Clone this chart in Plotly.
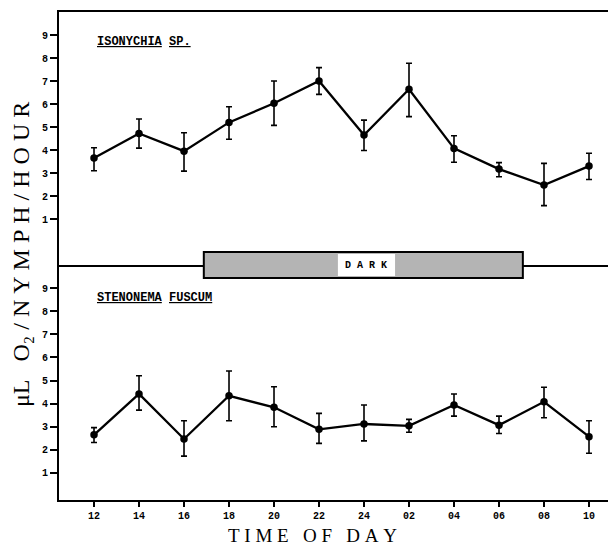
import plotly.graph_objects as go

# ---- data ----
time_labels = ["12", "14", "16", "18", "20", "22", "24", "02", "04", "06", "08", "10"]

iso_mean = [3.65, 4.72, 3.95, 5.20, 6.03, 7.00, 4.65, 6.64, 4.07, 3.17, 2.48, 3.30]
iso_hi   = [4.10, 5.35, 4.75, 5.88, 7.00, 7.58, 5.30, 7.77, 4.62, 3.45, 3.42, 3.86]
iso_lo   = [3.10, 4.08, 3.08, 4.47, 5.07, 6.42, 3.98, 5.45, 3.47, 2.84, 1.58, 2.72]

sten_mean = [2.65, 4.42, 2.47, 4.34, 3.84, 2.89, 3.12, 3.04, 3.94, 3.07, 4.08, 2.57]
sten_hi   = [2.96, 5.21, 3.26, 5.41, 4.73, 3.58, 3.94, 3.32, 4.42, 3.46, 4.71, 3.26]
sten_lo   = [2.32, 3.72, 1.73, 3.26, 3.00, 2.28, 2.39, 2.76, 3.46, 2.71, 3.39, 1.85]

y_ticks = [1, 2, 3, 4, 5, 6, 7, 8, 9]

dark_start = 2.44   # category index where the DARK bar begins (~17 h)
dark_end = 9.53     # category index where it ends (~07 h)

# ---- layout helpers (the page body adds an 8 px offset) ----
OFF = 8
W, H = 616 - OFF, 546 - OFF
L, T, B = 59 - OFF, 12 - OFF, 500 - OFF


def py(y_page):
    return (B - (y_page - OFF)) / (B - T)


def px(x_page):
    return ((x_page - OFF) - L) / (W - L)


split_p = py(265)

mono = "Liberation Mono"
serif = "Liberation Serif"

fig = go.Figure()


def add_series(mean, hi, lo, xa, ya):
    plus = [h - m for h, m in zip(hi, mean)]
    minus = [m - l for m, l in zip(mean, lo)]
    fig.add_trace(go.Scatter(
        x=time_labels, y=mean, xaxis=xa, yaxis=ya,
        mode="lines+markers",
        line=dict(color="black", width=2.3),
        marker=dict(color="black", size=7.5),
        error_y=dict(type="data", symmetric=False, array=plus, arrayminus=minus,
                     color="black", thickness=1.6, width=3),
        showlegend=False, hoverinfo="skip",
    ))


add_series(iso_mean, iso_hi, iso_lo, "x2", "y2")
add_series(sten_mean, sten_hi, sten_lo, "x", "y")

tickfont = dict(family=mono, size=10, color="black", weight="bold")

common_x = dict(type="category", categoryorder="array", categoryarray=time_labels,
                range=[-0.778, 11.6], showgrid=False, zeroline=False,
                linecolor="black", linewidth=2, showline=True)

fig.update_layout(
    width=W, height=H,
    margin=dict(l=L, r=0, t=T, b=H - B),
    paper_bgcolor="white", plot_bgcolor="white",
    xaxis=dict(**common_x, anchor="y", ticks="outside", ticklen=5, tickwidth=1.5,
               tickcolor="black", tickfont=tickfont),
    xaxis2=dict(**common_x, anchor="y2", matches="x", showticklabels=False,
                ticks="", mirror=True),
    yaxis=dict(domain=[0, split_p], range=[-0.17, 10], tickvals=y_ticks,
               showgrid=False, zeroline=False, showline=True, linecolor="black",
               linewidth=2, ticks="outside", ticklen=7, tickwidth=1.5,
               tickcolor="black", tickfont=tickfont, anchor="x"),
    yaxis2=dict(domain=[split_p, 1], range=[-1, 10], tickvals=y_ticks,
                showgrid=False, zeroline=False, showline=True, linecolor="black",
                linewidth=2, ticks="outside", ticklen=7, tickwidth=1.5,
                tickcolor="black", tickfont=tickfont, anchor="x2"),
)

# DARK bar
fig.add_shape(type="rect", xref="x", yref="paper", x0=dark_start, x1=dark_end,
              y0=py(278), y1=py(252), fillcolor="#b4b4b4",
              line=dict(color="black", width=2), layer="above")
fig.add_shape(type="rect", xref="x", yref="paper", x0=5.42, x1=6.69,
              y0=py(276), y1=py(254), fillcolor="white",
              line=dict(width=0), layer="above")
fig.add_annotation(text="<b>D A R K</b>", xref="x", yref="paper", x=6.05, y=split_p,
                   showarrow=False, font=dict(family=mono, size=10, color="black"))

# panel labels
fig.add_annotation(text="<b><u>ISONYCHIA</u> <u>SP.</u></b>", xref="paper", yref="paper",
                   x=px(95), y=py(42), xanchor="left", yanchor="middle",
                   showarrow=False, font=dict(family=mono, size=12, color="black"))
fig.add_annotation(text="<b><u>STENONEMA</u> <u>FUSCUM</u></b>", xref="paper", yref="paper",
                   x=px(95), y=py(298), xanchor="left", yanchor="middle",
                   showarrow=False, font=dict(family=mono, size=12, color="black"))

# axis titles
nb = "\u00a0"
ytitle = (f"μL{nb}{nb}{nb}O₂{nb}/{nb}N{nb}Y{nb}M{nb}P{nb}H{nb}/{nb}"
          f"H{nb}O{nb}U{nb}R")
fig.add_annotation(text=ytitle, xref="paper", yref="paper",
                   x=px(21), y=py(255), textangle=-90,
                   xanchor="center", yanchor="middle", showarrow=False,
                   font=dict(family=serif, size=24, color="black"))
xtitle = f"T{nb}I{nb}M{nb}E{nb}{nb}{nb}O{nb}F{nb}{nb}{nb}D{nb}A{nb}Y"
fig.add_annotation(text=xtitle, xref="paper", yref="paper",
                   x=px(312), y=py(535), xanchor="center", yanchor="middle",
                   showarrow=False, font=dict(family=serif, size=19, color="black"))

fig.write_html("out.html")
